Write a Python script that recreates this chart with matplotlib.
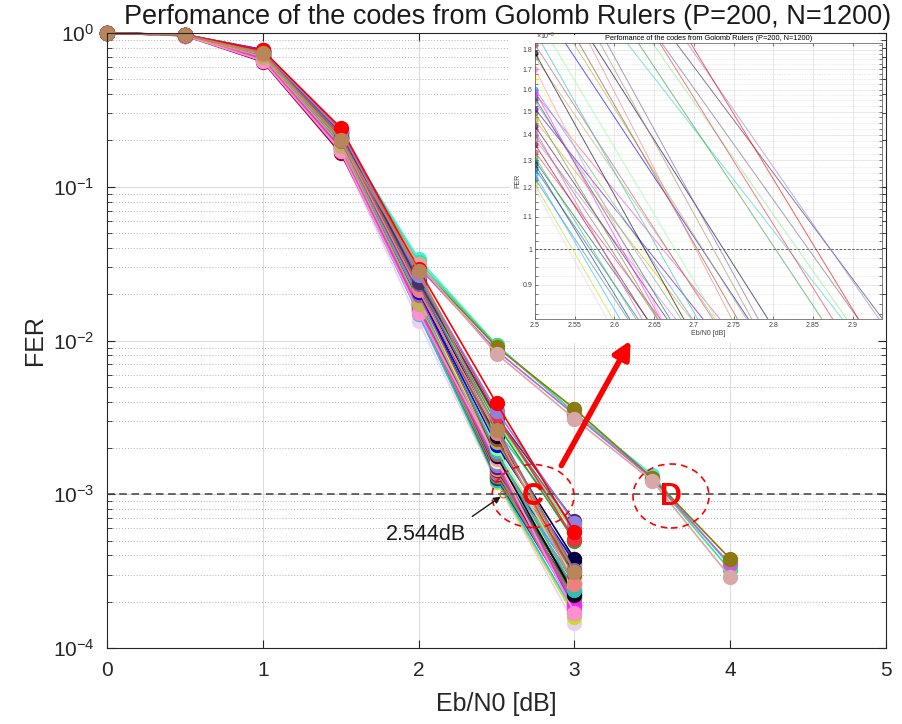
import numpy as np
import matplotlib
matplotlib.use("Agg")
import matplotlib.pyplot as plt
from matplotlib.patches import Ellipse, FancyArrowPatch
from matplotlib.ticker import FixedLocator, FuncFormatter, NullLocator

plt.rcParams['font.family'] = ['Liberation Sans', 'DejaVu Sans']
plt.rcParams['mathtext.default'] = 'regular'
plt.rcParams['axes.unicode_minus'] = False

# ---- data: main group (curves stop at 3 dB) ----
snr_main = [0, 0.5, 1, 1.5, 2, 2.5, 3]

colors_main = ['#ecd0f0', '#c8e020', '#4a7fc0', '#20c0f0', '#2060d0', '#104060', '#0a5a5a', '#40c040',
               '#e04070', '#900030', '#b090d0', '#907070', '#e060a0', '#501070', '#e0a030', '#709020',
               '#6000c0', '#80a0a8', '#206050', '#ff40c0', '#ff20ff', '#40a0ff', '#ffff60', '#ff90d0',
               '#c0b060', '#100020', '#b06080', '#30c0b0', '#90ff90', '#0000ff', '#b0b040', '#a05030',
               '#000040', '#f08080', '#40d0c0', '#8060a0', '#30a030', '#80f080', '#707080', '#4a3060',
               '#f03040', '#9080e0', '#ff0000', '#b8865b']

fer_00 = [1.0, 1.0, 1.0, 1.0, 1.0, 1.0, 1.0, 1.0, 1.0, 1.0, 1.0, 1.0, 1.0, 1.0, 1.0,
          1.0, 1.0, 1.0, 1.0, 1.0, 1.0, 1.0, 1.0, 1.0, 1.0, 1.0, 1.0, 1.0, 1.0, 1.0,
          1.0, 1.0, 1.0, 1.0, 1.0, 1.0, 1.0, 1.0, 1.0, 1.0, 1.0, 1.0, 1.0, 1.0]
fer_05 = [0.962, 0.965, 0.968, 0.963, 0.969, 0.966, 0.970, 0.964, 0.970, 0.960, 0.971, 0.967, 0.962, 0.969, 0.972,
          0.966, 0.972, 0.970, 0.967, 0.963, 0.965, 0.971, 0.971, 0.962, 0.968, 0.973, 0.971, 0.973, 0.973, 0.976,
          0.973, 0.972, 0.974, 0.971, 0.974, 0.973, 0.974, 0.975, 0.974, 0.974, 0.975, 0.974, 0.975, 0.972]
fer_10 = [0.66, 0.68, 0.70, 0.67, 0.71, 0.69, 0.72, 0.68, 0.72, 0.65, 0.73, 0.70, 0.66, 0.71, 0.74,
          0.69, 0.74, 0.72, 0.70, 0.67, 0.68, 0.73, 0.73, 0.66, 0.70, 0.75, 0.73, 0.75, 0.75, 0.78,
          0.75, 0.74, 0.76, 0.73, 0.76, 0.75, 0.76, 0.77, 0.76, 0.76, 0.77, 0.76, 0.77, 0.74]
fer_15 = [0.168, 0.175, 0.182, 0.172, 0.186, 0.178, 0.190, 0.176, 0.194, 0.165, 0.196, 0.184, 0.170, 0.188, 0.200,
          0.180, 0.205, 0.192, 0.183, 0.174, 0.177, 0.195, 0.198, 0.171, 0.185, 0.210, 0.199, 0.212, 0.216, 0.206,
          0.214, 0.208, 0.222, 0.204, 0.225, 0.218, 0.228, 0.232, 0.226, 0.227, 0.235, 0.230, 0.242, 0.202]
fer_20 = [0.0133, 0.0150, 0.0165, 0.0148, 0.0172, 0.0160, 0.0185, 0.0158, 0.0190, 0.0170, 0.0195, 0.0178, 0.0155,
          0.0182, 0.0205, 0.0168, 0.0210, 0.0188, 0.0176, 0.0159, 0.0162, 0.0192, 0.0200, 0.0152, 0.0174, 0.0215,
          0.0199, 0.0220, 0.0230, 0.0208, 0.0225, 0.0218, 0.0238, 0.0212, 0.0245, 0.0232, 0.0250, 0.0262, 0.0255,
          0.0241, 0.0270, 0.0265, 0.0290, 0.0285]
fer_25 = [1.193e-3, 1.21e-3, 1.231e-3, 1.247e-3, 1.268e-3, 1.284e-3, 1.297e-3, 1.313e-3, 1.331e-3, 1.362e-3,
          1.382e-3, 1.402e-3, 1.42e-3, 1.437e-3, 1.463e-3, 1.495e-3, 1.512e-3, 1.547e-3, 1.562e-3, 1.582e-3,
          1.593e-3, 1.604e-3, 1.656e-3, 1.701e-3, 1.762e-3, 1.783e-3, 1.827e-3, 1.9e-3, 2.0e-3, 2.1e-3,
          2.2e-3, 2.3e-3, 2.4e-3, 2.5e-3, 2.6e-3, 2.7e-3, 2.9e-3, 3.0e-3, 3.1e-3, 3.2e-3,
          3.3e-3, 3.5e-3, 3.9e-3, 2.6e-3]
fer_30 = [1.45e-4, 1.60e-4, 2.10e-4, 1.70e-4, 2.30e-4, 1.90e-4, 2.50e-4, 2.00e-4, 2.80e-4, 2.20e-4,
          3.10e-4, 2.40e-4, 1.80e-4, 2.60e-4, 3.30e-4, 2.10e-4, 3.50e-4, 2.70e-4, 2.30e-4, 3.80e-4,
          1.90e-4, 2.90e-4, 2.50e-4, 1.70e-4, 3.20e-4, 2.20e-4, 3.00e-4, 2.40e-4, 2.80e-4, 3.60e-4,
          3.40e-4, 3.00e-4, 3.80e-4, 2.60e-4, 5.80e-4, 3.20e-4, 5.00e-4, 5.70e-4, 6.00e-4, 6.70e-4,
          5.10e-4, 6.50e-4, 5.70e-4, 3.10e-4]

# ---- data: group D (curves continue to 4 dB) ----
snr_d = [0, 0.5, 1, 1.5, 2, 2.5, 3, 3.5, 4]
colors_d = ['#40f0f0', '#40e080', '#c060e0', '#8a7a10', '#d8a8a8']
fer_d = [
    [1.0, 0.972, 0.74, 0.220, 0.0340, 9.4e-3, 3.4e-3, 1.34e-3, 3.4e-4],
    [1.0, 0.970, 0.73, 0.215, 0.0325, 9.3e-3, 3.4e-3, 1.27e-3, 3.2e-4],
    [1.0, 0.969, 0.71, 0.205, 0.0300, 8.6e-3, 3.3e-3, 1.26e-3, 3.5e-4],
    [1.0, 0.970, 0.72, 0.210, 0.0310, 9.1e-3, 3.6e-3, 1.28e-3, 3.8e-4],
    [1.0, 0.968, 0.72, 0.200, 0.0316, 8.2e-3, 3.1e-3, 1.22e-3, 2.9e-4],
]

W, H = 903, 724


def fxy(px, py):
    return px / W, 1 - py / H


fig = plt.figure(figsize=(W / 100, H / 100), dpi=100)
ax = fig.add_axes([107 / W, 1 - 648 / H, 779 / W, 615 / H])

main = np.column_stack([fer_00, fer_05, fer_10, fer_15, fer_20, fer_25, fer_30])

for row, c in zip(fer_d, colors_d):
    ax.plot(snr_d, row, '-o', color=c, lw=1.2, ms=10, mec=c, mfc=c, clip_on=False)
for row, c in zip(main, colors_main):
    ax.plot(snr_main, row, '-o', color=c, lw=1.2, ms=10, mec=c, mfc=c, clip_on=False)

ax.axhline(1e-3, color='#404040', ls=(0, (5, 3)), lw=1.1, zorder=5)
ax.plot([2.544], [1e-3], 'o', mfc='none', mec='#e06020', ms=5, mew=0.8, zorder=6)

ax.set_yscale('log')
ax.set_xlim(0, 5)
ax.set_ylim(1e-4, 1)
ax.set_xticks([0, 1, 2, 3, 4, 5])
ax.xaxis.set_minor_locator(NullLocator())
ax.grid(True, which='major', color='#dcdcdc', lw=0.8)
ax.grid(True, which='minor', axis='y', color='#b0b0b0', ls=(0, (1, 2)), lw=0.7)
ax.tick_params(which='both', direction='in', top=True, right=True, labelsize=15, colors='#262626')
ax.tick_params(which='major', length=6, pad=9)
ax.tick_params(which='minor', length=3.5)
for s in ax.spines.values():
    s.set_color('#262626')
ax.set_xlabel('Eb/N0 [dB]', fontsize=18, color='#262626', labelpad=9)
ax.set_ylabel('FER', fontsize=18, color='#262626', labelpad=4)
fig.text(*fxy(508, 17), 'Perfomance of the codes from Golomb Rulers (P=200, N=1200)',
         fontsize=19.5, ha='center', va='center', color='#1a1a1a')

# ---- inset: zoom around FER = 1e-3 ----
bg = fig.add_axes([510 / W, 1 - 343 / H, 368 / W, 308 / H])
bg.set_facecolor('white')
bg.set_xticks([])
bg.set_yticks([])
for s in bg.spines.values():
    s.set_visible(False)

axin = fig.add_axes([535 / W, 1 - 319 / H, 347 / W, 276 / H])
for row, c in zip(fer_d, colors_d):
    axin.plot(snr_d, row, '-o', color=c, lw=0.7, ms=3.5, mec=c, mfc=c, alpha=0.65)
for row, c in zip(main, colors_main):
    axin.plot(snr_main, row, '-o', color=c, lw=0.7, ms=3.5, mec=c, mfc=c, alpha=0.65)
axin.axhline(1e-3, color='#505050', ls=(0, (3, 2)), lw=0.6)
axin.set_yscale('log')
axin.set_xlim(2.5, 2.937)
axin.set_ylim(0.814e-3, 1.836e-3)
axin.xaxis.set_major_locator(FixedLocator([2.5, 2.55, 2.6, 2.65, 2.7, 2.75, 2.8, 2.85, 2.9]))
axin.xaxis.set_major_formatter(FuncFormatter(lambda v, p: f'{v:g}'))
axin.yaxis.set_major_locator(FixedLocator(np.arange(0.9, 1.85, 0.1) * 1e-3))
axin.yaxis.set_major_formatter(FuncFormatter(lambda v, p: f'{v * 1e3:.1f}'.rstrip('0').rstrip('.')))
axin.yaxis.set_minor_locator(FixedLocator(np.arange(0.825, 1.84, 0.025) * 1e-3))
axin.yaxis.set_minor_formatter(FuncFormatter(lambda v, p: ''))
axin.xaxis.set_minor_locator(NullLocator())
axin.grid(True, which='major', color='#e0e0e0', lw=0.5)
axin.grid(True, which='minor', axis='y', color='#c8c8c8', ls=(0, (1, 2)), lw=0.4)
axin.tick_params(which='both', direction='in', top=True, right=True, labelsize=5, colors='#404040',
                 length=2, pad=2, width=0.5)
for s in axin.spines.values():
    s.set_color('#505050')
    s.set_linewidth(0.5)
axin.set_xlabel('Eb/N0 [dB]', fontsize=5, labelpad=1, color='#404040')
axin.set_ylabel('FER', fontsize=5, labelpad=1, color='#404040')
axin.set_title('Perfomance of the codes from Golomb Rulers (P=200, N=1200)', fontsize=5.3, pad=2)
fig.text(*fxy(536, 42), r'$\times10^{-3}$', fontsize=5, color='#404040', ha='left', va='bottom')

# ---- annotations ----
fig.add_artist(Ellipse(fxy(533, 496), 82 / W, 63 / H, transform=fig.transFigure, fill=False,
                       ec='red', ls=(0, (4, 3)), lw=1.2, zorder=10))
fig.add_artist(Ellipse(fxy(671, 496), 76 / W, 64 / H, transform=fig.transFigure, fill=False,
                       ec='red', ls=(0, (4, 3)), lw=1.2, zorder=10))
fig.text(*fxy(533, 497), 'C', color='red', fontsize=22, fontweight='bold', ha='center', va='center', zorder=11)
fig.text(*fxy(671, 497), 'D', color='red', fontsize=22, fontweight='bold', ha='center', va='center', zorder=11)

fig.add_artist(FancyArrowPatch(fxy(560, 468), fxy(632, 338), transform=fig.transFigure,
                               arrowstyle='-|>', mutation_scale=26, lw=4, color='red', zorder=12))
fig.text(*fxy(426, 534), '2.544dB', fontsize=15.5, ha='center', va='center', color='#1a1a1a')
fig.add_artist(FancyArrowPatch(fxy(470, 518), fxy(503, 495), transform=fig.transFigure,
                               arrowstyle='-|>', mutation_scale=10, lw=1, color='#1a1a1a', zorder=12))

fig.savefig('out.png', dpi=100)
